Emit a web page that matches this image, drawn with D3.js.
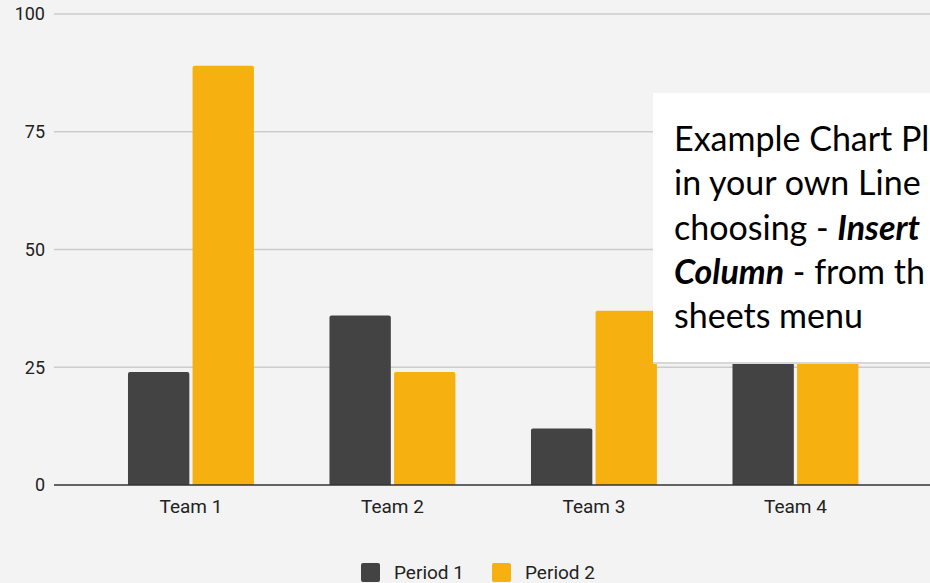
<!DOCTYPE html>
<html>
<head>
<meta charset="utf-8">
<script src="https://cdn.jsdelivr.net/npm/d3@7"></script>
<style>
  body { margin: 0; background: #f3f3f3; }
  svg { display: block; font-family: Roboto, sans-serif; }
</style>
</head>
<body>
<svg width="930" height="583"></svg>
<script>
var teams = ['Team 1', 'Team 2', 'Team 3', 'Team 4'];
var periods = ['Period 1', 'Period 2'];
var period1 = [24, 36, 12, 40];
var period2 = [89, 24, 37, 45];
var yTicks = [0, 25, 50, 75, 100];
var colors = ['#434343', '#f6b111'];
var noteLines = [
  [{t: 'Example Chart Pl'}],
  [{t: 'in your own Line'}],
  [{t: 'choosing - '}, {t: 'Insert', b: true}],
  [{t: 'Column', b: true}, {t: ' - from th'}],
  [{t: 'sheets menu'}]
];

var width = 930;
var height = 583;
var svg = d3.select('svg');

svg.append('rect')
    .attr('width', width)
    .attr('height', height)
    .attr('fill', '#f3f3f3');

var yScale = d3.scaleLinear()
               .domain([0, 100])
               .range([485, 14]);

var xScale = d3.scaleBand()
               .domain(teams)
               .range([90.2, 896.2])
               .paddingInner(0.375)
               .paddingOuter(0.1875);

var x1Scale = d3.scaleBand()
                .domain(periods)
                .range([0, xScale.bandwidth()])
                .paddingInner(0.05);

// gridlines
svg.append('g')
    .selectAll('line')
    .data(yTicks.slice(1))
    .enter()
    .append('line')
      .attr('x1', 54)
      .attr('x2', width)
      .attr('y1', d => yScale(d))
      .attr('y2', d => yScale(d))
      .attr('stroke', '#cccccc')
      .attr('stroke-width', 1.5);

svg.append('g')
    .selectAll('text')
    .data(yTicks)
    .enter()
    .append('text')
      .attr('x', 45)
      .attr('y', d => yScale(d))
      .attr('dy', '0.35em')
      .attr('text-anchor', 'end')
      .attr('fill', '#222')
      .style('font-size', '18px')
      .text(d => d);

var rows = teams.map((t, i) => ({team: t, values: [period1[i], period2[i]]}));

function barPath(x, y, w, h, r) {
  return 'M' + x + ',' + (y + h) +
         'V' + (y + r) +
         'Q' + x + ',' + y + ' ' + (x + r) + ',' + y +
         'H' + (x + w - r) +
         'Q' + (x + w) + ',' + y + ' ' + (x + w) + ',' + (y + r) +
         'V' + (y + h) + 'Z';
}

svg.append('g')
    .selectAll('g')
    .data(rows)
    .enter()
    .append('g')
      .attr('transform', d => 'translate(' + xScale(d.team) + ',0)')
    .selectAll('path')
    .data(d => d.values.map((v, i) => ({period: periods[i], value: v, color: colors[i]})))
    .enter()
    .append('path')
      .attr('d', d => barPath(x1Scale(d.period), yScale(d.value), x1Scale.bandwidth(), yScale(0) - yScale(d.value), 2))
      .attr('fill', d => d.color);

// baseline
svg.append('line')
    .attr('x1', 54)
    .attr('x2', width)
    .attr('y1', yScale(0))
    .attr('y2', yScale(0))
    .attr('stroke', '#333')
    .attr('stroke-width', 1.5);

svg.append('g')
    .selectAll('text')
    .data(teams)
    .enter()
    .append('text')
      .attr('x', d => xScale(d) + xScale.bandwidth() / 2)
      .attr('y', 513)
      .attr('text-anchor', 'middle')
      .attr('fill', '#222')
      .style('font-size', '19px')
      .text(d => d);

// legend
var legend = svg.append('g')
    .selectAll('g')
    .data(periods)
    .enter()
    .append('g')
      .attr('transform', (d, i) => 'translate(' + (361 + i * 131) + ',563)');

legend.append('rect')
    .attr('width', 19)
    .attr('height', 19)
    .attr('rx', 2)
    .attr('fill', (d, i) => colors[i]);

legend.append('text')
    .attr('x', 33)
    .attr('y', 16)
    .attr('fill', '#222')
    .style('font-size', '19px')
    .text(d => d);

// note box laid over the chart
svg.append('rect')
    .attr('x', 653)
    .attr('y', 94)
    .attr('width', 280)
    .attr('height', 270)
    .attr('fill', '#d8d8d8');

svg.append('rect')
    .attr('x', 653)
    .attr('y', 93)
    .attr('width', 280)
    .attr('height', 269)
    .attr('fill', '#ffffff');

var note = svg.append('text')
    .attr('fill', '#000')
    .style('font-family', 'Lato, "Open Sans", sans-serif')
    .style('font-size', '34px');

noteLines.forEach(function(line, i) {
  var tl = note.append('tspan')
      .attr('x', 674)
      .attr('y', 151 + i * 44.3);
  line.forEach(function(part, j) {
    var s = j === 0 ? tl : note.append('tspan');
    s.text(part.t);
    if (part.b) s.style('font-weight', 'bold').style('font-style', 'italic');
  });
});
</script>
</body>
</html>
